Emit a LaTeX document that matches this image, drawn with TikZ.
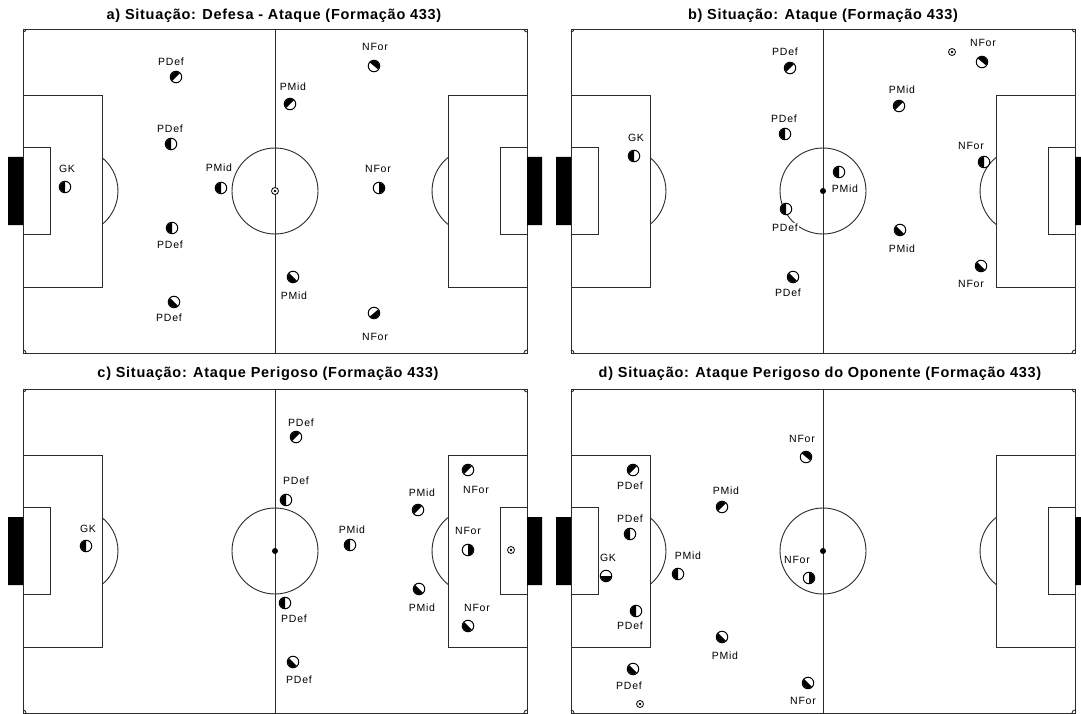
\documentclass[tikz,border=0pt]{standalone}
\usepackage{fontspec}
\setmainfont{Liberation Sans}
\newfontfamily\lblfont[LetterSpace=7]{Liberation Sans}
\newfontfamily\ttlfont[LetterSpace=5]{Liberation Sans}
\usetikzlibrary{positioning}
\definecolor{pline}{HTML}{2B2B2B}

% one pitch, #1 = prefix, (#2,#3) = top left corner
\newcommand{\pitch}[3]{%
  \begin{scope}[shift={(#2,#3)}]
    \draw[fld] (0,0) rectangle (504,324);
    \draw[fld] (252,0) -- (252,324);
    \draw[fld] (252,162) circle[radius=43];
    \coordinate (#1mid) at (252,162);
    \draw[fld] (0,66) rectangle (79,258) (0,118) rectangle (27,205);
    \draw[fld] (504,66) rectangle (425,258) (504,118) rectangle (477,205);
    \draw[fld] (52,162) ++(-51:43) arc[start angle=-51, end angle=51, radius=43];
    \draw[fld] (452,162) ++(129:43) arc[start angle=129, end angle=231, radius=43];
    \fill[goal] (-15,128) rectangle (0,196) (504,128) rectangle (519,196);
    \draw[fld] (3,0) arc[start angle=0, end angle=90, radius=3];
    \draw[fld] (501,0) arc[start angle=180, end angle=90, radius=3];
    \draw[fld] (0,321) arc[start angle=270, end angle=360, radius=3];
    \draw[fld] (504,321) arc[start angle=270, end angle=180, radius=3];
  \end{scope}}

% player: name, x, y, side of black half, label, label x, label y
\newcommand{\plr}[7]{%
  \node[plyr] (#1) at (#2,#3) {};
  \fill (#1.center) ++(#4-90:5.6) arc[start angle=#4-90, delta angle=180, radius=5.6] -- cycle;
  \node[lbl] (#1l) at (#6,#7) {#5};}

\newcommand{\ballat}[3]{%
  \node[ball] (#1) at (#2,#3) {};
  \fill (#1.center) circle[radius=1.3];}

\begin{document}
\begin{tikzpicture}[
  x=1pt, y=-1pt,
  fld/.style={draw=pline, line width=0.9pt},
  goal/.style={fill=black},
  plyr/.style={circle, draw=black, fill=white, line width=1pt, minimum size=11.5pt, inner sep=0pt},
  lbl/.style={font=\fontsize{10.5}{12}\lblfont, fill=white, inner sep=1pt},
  ttl/.style={font=\fontsize{14.5}{16}\ttlfont\bfseries},
  ball/.style={circle, draw=black, fill=white, line width=0.8pt, minimum size=7pt, inner sep=0pt},
  spot/.style={circle, fill=black, minimum size=6pt, inner sep=0pt},
]
\useasboundingbox[fill=white] (0,0) rectangle (1081,714);

% Pitches
\pitch{pa}{23}{29}
\pitch{pb}{571}{29}
\pitch{pc}{23}{389}
\pitch{pd}{571}{389}
\node[spot] (sb) at (pbmid) {};
\node[spot] (sc) at (pcmid) {};
\node[spot] (sd) at (pdmid) {};

% Titles
\node[ttl] (ta) at (274,16) {a) Situação: Defesa - Ataque (Formação 433)};
\node[ttl] (tb) at (823,16) {b) Situação: Ataque (Formação 433)};
\node[ttl] (tc) at (268,374) {c) Situação: Ataque Perigoso (Formação 433)};
\node[ttl] (td) at (820,374) {d) Situação: Ataque Perigoso do Oponente (Formação 433)};

% a) Defesa - Ataque
\ballat{ba}{275}{191}
\plr{a1}{65}{187}{180}{GK}{67}{169}
\plr{a2}{176}{77}{225}{PDef}{171}{62}
\plr{a3}{171}{144}{180}{PDef}{170}{129}
\plr{a4}{172}{228}{180}{PDef}{170}{245}
\plr{a5}{174}{302}{135}{PDef}{169}{318}
\plr{a6}{221}{188}{180}{PMid}{219}{168}
\plr{a7}{290}{104}{225}{PMid}{293}{87}
\plr{a8}{293}{277}{135}{PMid}{294}{296}
\plr{a9}{374}{66}{310}{NFor}{375}{47}
\plr{a10}{379}{188}{0}{NFor}{378}{169}
\plr{a11}{374}{313}{50}{NFor}{375}{337}

% b) Ataque
\ballat{bb}{952}{52}
\plr{b1}{634}{156}{180}{GK}{636}{138}
\plr{b2}{790}{68}{225}{PDef}{785}{52}
\plr{b3}{785}{134}{180}{PDef}{784}{119}
\plr{b4}{786}{209}{180}{PDef}{785}{228}
\plr{b5}{793}{277}{135}{PDef}{788}{293}
\plr{b6}{839}{172}{180}{PMid}{845}{189}
\plr{b7}{899}{106}{225}{PMid}{902}{90}
\plr{b8}{900}{230}{135}{PMid}{902}{249}
\plr{b9}{982}{62}{310}{NFor}{983}{43}
\plr{b10}{984}{162}{180}{NFor}{971}{146}
\plr{b11}{981}{266}{135}{NFor}{971}{284}

% c) Ataque Perigoso
\ballat{bc}{511}{550}
\plr{c1}{86}{546}{180}{GK}{88}{529}
\plr{c2}{296}{437}{225}{PDef}{301}{423}
\plr{c3}{286}{500}{180}{PDef}{296}{481}
\plr{c4}{285}{603}{180}{PDef}{294}{619}
\plr{c5}{293}{662}{135}{PDef}{299}{680}
\plr{c6}{350}{545}{180}{PMid}{352}{530}
\plr{c7}{418}{510}{225}{PMid}{422}{493}
\plr{c8}{419}{589}{135}{PMid}{422}{608}
\plr{c9}{468}{470}{225}{NFor}{476}{490}
\plr{c10}{468}{550}{0}{NFor}{468}{531}
\plr{c11}{468}{626}{135}{NFor}{477}{608}

% d) Ataque Perigoso do Oponente
\ballat{bd}{640}{704}
\plr{d1}{606}{576}{90}{GK}{608}{558}
\plr{d2}{633}{470}{225}{PDef}{630}{486}
\plr{d3}{630}{534}{180}{PDef}{630}{519}
\plr{d4}{636}{611}{180}{PDef}{630}{626}
\plr{d5}{633}{669}{135}{PDef}{629}{686}
\plr{d6}{722}{507}{225}{PMid}{726}{491}
\plr{d7}{678}{574}{180}{PMid}{688}{556}
\plr{d8}{722}{637}{135}{PMid}{725}{656}
\plr{d9}{806}{457}{310}{NFor}{802}{439}
\plr{d10}{809}{578}{0}{NFor}{797}{560}
\plr{d11}{808}{683}{135}{NFor}{803}{701}

\end{tikzpicture}
\end{document}
